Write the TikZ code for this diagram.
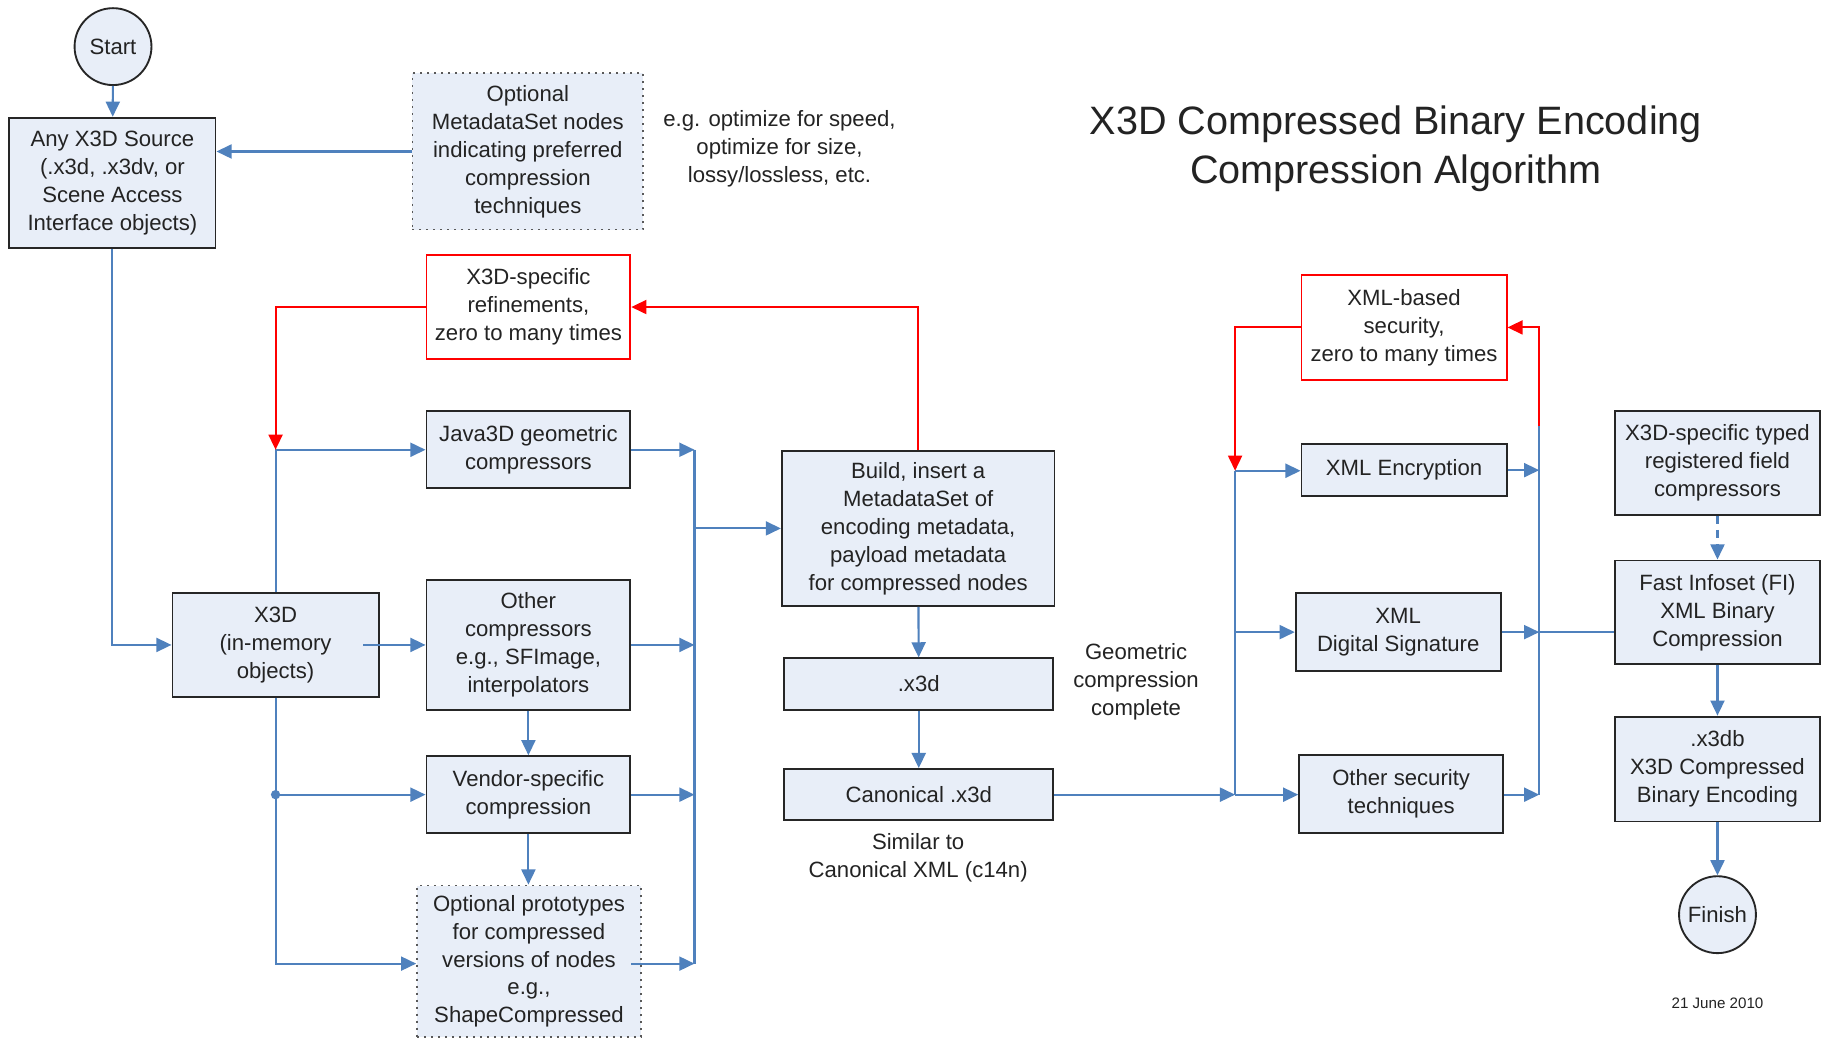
\documentclass[tikz,border=0pt]{standalone}
\usepackage{fontspec}
\setmainfont{Liberation Sans}
\usetikzlibrary{arrows.meta,calc}
\definecolor{bfill}{RGB}{232,238,248}
\definecolor{bline}{RGB}{79,129,189}
\definecolor{rline}{RGB}{255,0,0}
\definecolor{txt}{RGB}{35,35,35}
\begin{document}
\begin{tikzpicture}[x=1pt,y=-1pt,
 box/.style={draw=black!85,fill=bfill,line width=1.6pt,align=center,inner sep=0pt,font=\fontsize{19}{24}\selectfont,text=txt},
 dbox/.style={box,draw=black!65,dash pattern=on 1.6pt off 4.4pt},
 rbox/.style={box,fill=white,draw=rline},
 circ/.style={box,circle,minimum size=66pt},
 lbl/.style={align=center,font=\fontsize{19}{24}\selectfont,text=txt},
 arr/.style={draw=bline,line width=1.8pt,-{Triangle[length=13pt,width=12pt]}},
 ln/.style={draw=bline,line width=1.8pt},
 rarr/.style={draw=rline,line width=1.8pt,-{Triangle[length=13pt,width=12pt]}},
]
\useasboundingbox (0,0) rectangle (1568,892);
\fill[white] (0,0) rectangle (1568,892);

% nodes
\node[circ] (start) at (97,40) {Start};
\node[box,minimum width=177pt,minimum height=112pt] (src) at (96.5,157) {Any X3D Source\\(.x3d, .x3dv, or\\Scene Access\\Interface objects)};
\node[dbox,minimum width=198pt,minimum height=134pt] (optmeta) at (453,130) {Optional\\MetadataSet nodes\\indicating preferred\\compression\\techniques};
\node[lbl] (eg) at (669,128) {e.g. optimize for speed,\\optimize for size,\\lossy/lossless, etc.};
\node[lbl,font=\fontsize{34}{42}\selectfont] (title) at (1198,128) {X3D Compressed Binary Encoding\\Compression Algorithm};

\node[rbox,minimum width=175pt,minimum height=89pt] (refine) at (453.5,263.5) {X3D-specific\\refinements,\\zero to many times};
\node[box,minimum width=177pt,minimum height=89pt] (x3d) at (236.5,553.5) {X3D\\(in-memory\\objects)};
\node[box,minimum width=175pt,minimum height=66pt] (java) at (453.5,386) {Java3D geometric\\compressors};
\node[box,minimum width=175pt,minimum height=111pt] (other) at (453.5,553.5) {Other\\compressors\\e.g., SFImage,\\interpolators};
\node[box,minimum width=175pt,minimum height=66pt] (vendor) at (453.5,682) {Vendor-specific\\compression};
\node[dbox,minimum width=192pt,minimum height=130pt] (optproto) at (454,825) {Optional prototypes\\for compressed\\versions of nodes\\e.g.,\\ShapeCompressed};

\node[box,minimum width=234pt,minimum height=133pt] (build) at (788,453.5) {Build, insert a\\MetadataSet of\\encoding metadata,\\payload metadata\\for compressed nodes};
\node[box,minimum width=231pt,minimum height=44pt] (x3dfile) at (788.5,587) {.x3d};
\node[box,minimum width=231pt,minimum height=44pt] (canon) at (788.5,682) {Canonical .x3d};
\node[lbl] (similar) at (788,736) {Similar to\\Canonical XML (c14n)};
\node[lbl] (geom) at (975,585) {Geometric\\compression\\complete};

\node[rbox,minimum width=176pt,minimum height=90pt] (xmlsec) at (1205,281) {XML-based\\security,\\zero to many times};
\node[box,minimum width=176pt,minimum height=45pt] (enc) at (1205,403.5) {XML Encryption};
\node[box,minimum width=176pt,minimum height=67pt] (sig) at (1200,542.5) {XML\\Digital Signature};
\node[box,minimum width=175pt,minimum height=67pt] (othsec) at (1202.5,681.5) {Other security\\techniques};

\node[box,minimum width=176pt,minimum height=89pt] (typed) at (1474,397.5) {X3D-specific typed\\registered field\\compressors};
\node[box,minimum width=176pt,minimum height=89pt] (fi) at (1474,525.5) {Fast Infoset (FI)\\XML Binary\\Compression};
\node[box,minimum width=176pt,minimum height=90pt] (x3db) at (1474,660) {.x3db\\X3D Compressed\\Binary Encoding};
\node[circ] (finish) at (1474,785) {Finish};
\node[lbl,font=\fontsize{13}{16}\selectfont] (date) at (1474,861) {21 June 2010};

% coordinates
\coordinate (jx) at (x3d.north |- java.west);
\coordinate (vj) at (x3d.south |- vendor.west);
\coordinate (busTop) at (596,386);
\coordinate (busBot) at (596,827);
\coordinate (busMtop) at (1060,404);
\coordinate (busM) at (1060,682);
\coordinate (busR) at (1321,366);
\coordinate (busRb) at (1321,682);

% connectors left
\draw[arr] (start) -- (src);
\draw[arr] (optmeta.west) -- (optmeta.west -| src.east);
\draw[arr] (src.south) |- (x3d.west);
\draw[arr] (x3d.north) |- (java.west);
\draw[arr] ([xshift=-14pt]x3d.east) -- (other.west);
\draw[arr] (x3d.south) |- (optproto.west |- busBot);
\fill[bline] (vj) circle (4pt);
\draw[arr] (vj) -- (vendor.west);
\draw[arr] (other) -- (vendor);
\draw[arr] (vendor.south) -- (vendor.south |- optproto.north);
\draw[rarr] (refine.west) -| (jx);
\draw[rarr] (build.north) |- (refine.east);

% left bus
\draw[ln] (busTop) -- (busBot);
\draw[arr] (java.east) -- (java.east -| busTop);
\draw[arr] (other.east) -- (other.east -| busTop);
\draw[arr] (vendor.east) -- (vendor.east -| busTop);
\draw[arr] ([xshift=-9pt]optproto.east |- busBot) -- (busBot);
\draw[arr] (busTop |- build.west) -- (build.west);

% middle
\draw[arr] (build) -- (x3dfile);
\draw[arr] (x3dfile) -- (canon);
\draw[arr] (canon.east) -- (busM);
\draw[ln] (busMtop) -- (busM);
\draw[arr] (busMtop) -- (busMtop -| enc.west);
\draw[arr] (busM |- sig.west) -- (sig.west);
\draw[arr] (busM) -- (busM -| othsec.west);
\draw[rarr] (xmlsec.west) -| (busMtop);

% right bus
\draw[ln] (busR) -- (busRb);
\draw[arr] (enc.east) -- (enc.east -| busR);
\draw[arr] (sig.east) -- (sig.east -| busR);
\draw[arr] (othsec.east |- busRb) -- (busRb);
\draw[rarr] (busR) |- (xmlsec.east);
\draw[ln] (busR |- sig.east) -- (fi.west |- sig.east);

% right column
\draw[arr,dash pattern=on 7pt off 5pt] (typed) -- (fi);
\draw[arr] (fi) -- (x3db);
\draw[arr] (x3db) -- (finish);
\end{tikzpicture}
\end{document}
